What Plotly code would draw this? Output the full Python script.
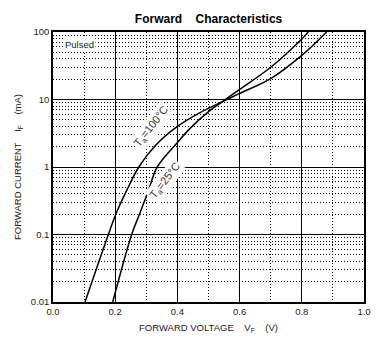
import plotly.graph_objects as go

# Forward characteristics data
v_100 = [0.103, 0.178, 0.202, 0.237, 0.276, 0.33, 0.40, 0.47, 0.545, 0.60, 0.70, 0.80, 0.88]
i_100 = [0.01, 0.1, 0.2, 0.45, 1.0, 2.1, 4.0, 6.3, 9.3, 12.3, 20.4, 45, 100]

v_25 = [0.192, 0.253, 0.278, 0.307, 0.335, 0.40, 0.44, 0.50, 0.545, 0.60, 0.70, 0.80, 0.821]
i_25 = [0.01, 0.1, 0.2, 0.45, 1.0, 2.3, 3.7, 6.6, 9.3, 14.1, 30, 79, 100]

x_ticks = [0.0, 0.2, 0.4, 0.6, 0.8, 1.0]
x_ticktext = ["0.0", "0.2", "0.4", "0.6", "0.8", "1.0"]
y_ticks = [0.01, 0.1, 1, 10, 100]
y_ticktext = ["0.01", "0.1", "1", "10", "100"]

FONT = "Liberation Sans, Arial, sans-serif"
NB = "\u00a0"

fig = go.Figure()
for v, i in [(v_100, i_100), (v_25, i_25)]:
    fig.add_trace(go.Scatter(x=v, y=i, mode="lines",
                             line=dict(color="black", width=1.5, shape="spline", smoothing=1.0),
                             showlegend=False, hoverinfo="skip"))

fig.update_layout(
    width=392, height=350,
    margin=dict(l=53, r=28, t=32, b=48),
    paper_bgcolor="white", plot_bgcolor="white",
    font=dict(family=FONT, size=9, color="black"),
    title=dict(text="<b>Forward" + NB * 4 + "Characteristics</b>",
               x=0.532, xanchor="center", y=0.945, yanchor="middle",
               font=dict(size=12, family=FONT, color="black")),
)

DOT = "1px,2px"

fig.update_xaxes(
    range=[0, 1], tickvals=x_ticks, ticktext=x_ticktext,
    showline=True, linecolor="black", linewidth=1.5, mirror=True,
    showgrid=True, gridcolor="black", gridwidth=1.2,
    ticks="", zeroline=False,
    minor=dict(dtick=0.1, showgrid=True, gridcolor="black", gridwidth=1, griddash=DOT),
    tickfont=dict(size=9.5, color="#222"),
    title=dict(text="FORWARD VOLTAGE" + NB * 4 + "V<sub>F</sub>" + NB * 4 + "(V)",
               font=dict(size=9.5, color="#222"), standoff=8),
)
fig.update_yaxes(
    type="log", range=[-2, 2], tickvals=y_ticks, ticktext=y_ticktext,
    showline=True, linecolor="black", linewidth=1.5, mirror=True,
    showgrid=True, gridcolor="black", gridwidth=1.2,
    ticks="", zeroline=False,
    minor=dict(dtick="D1", showgrid=True, gridcolor="black", gridwidth=1, griddash=DOT),
    tickfont=dict(size=9.5, color="#222"),
    title=dict(text="FORWARD CURRENT" + NB * 4 + "I<sub>F</sub>" + NB * 4 + "(mA)",
               font=dict(size=9.5, color="#222"), standoff=8),
)

fig.add_annotation(x=0.0, y=1.0, xref="x domain", yref="y domain",
                   xanchor="left", yanchor="top", xshift=10, yshift=-5,
                   text="Pulsed", showarrow=False, bgcolor="white",
                   font=dict(size=9.5, color="#222"))
fig.add_annotation(x=0.315, y=0.6, xref="x", yref="y",
                   text="T<sub>a</sub>=100" + "\u00b0C", textangle=-52, showarrow=False,
                   bgcolor="white", font=dict(size=11, color="#333"))
fig.add_annotation(x=0.36, y=-0.2, xref="x", yref="y",
                   text="T<sub>a</sub>=25" + "\u00b0C", textangle=-52, showarrow=False,
                   bgcolor="white", font=dict(size=11, color="#333"))

fig.write_html("out.html")
